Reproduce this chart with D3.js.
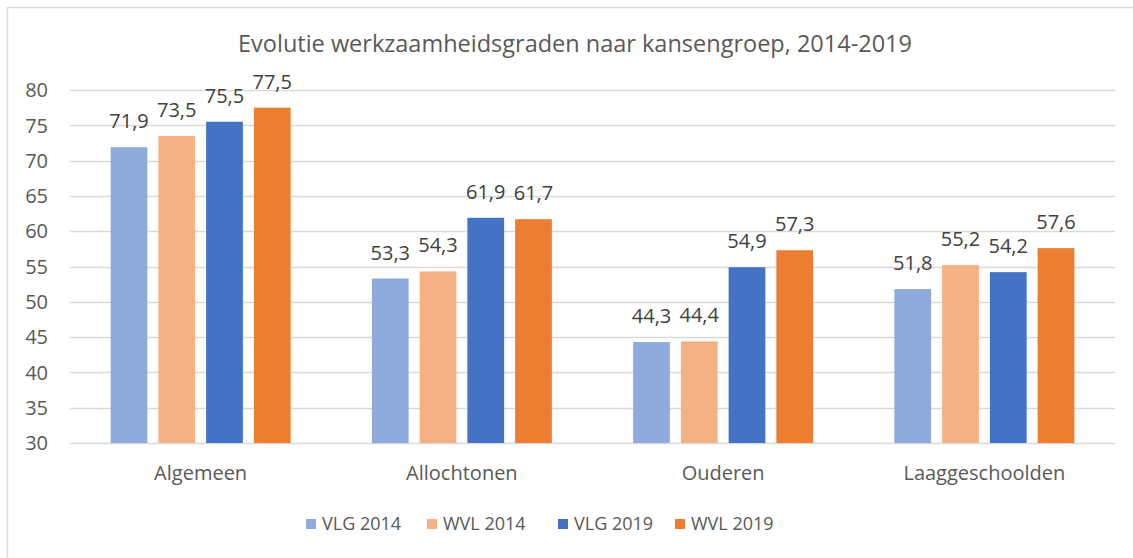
<!DOCTYPE html>
<html>
<head>
<meta charset="utf-8">
<script src="https://cdn.jsdelivr.net/npm/d3@7"></script>
<style>
  body { margin: 0; background: #fff; }
  svg { display: block; font-family: "Open Sans", sans-serif; }
</style>
</head>
<body>
<div id="chart"></div>
<script>
var categories = ["Algemeen", "Allochtonen", "Ouderen", "Laaggeschoolden"];
var seriesNames = ["VLG 2014", "WVL 2014", "VLG 2019", "WVL 2019"];
var vlg2014 = [71.9, 53.3, 44.3, 51.8];
var wvl2014 = [73.5, 54.3, 44.4, 55.2];
var vlg2019 = [75.5, 61.9, 54.9, 54.2];
var wvl2019 = [77.5, 61.7, 57.3, 57.6];
var yTicks = [30, 35, 40, 45, 50, 55, 60, 65, 70, 75, 80];
var colors = ["#8FAADC", "#F4B183", "#4472C4", "#ED7D31"];

var series = [vlg2014, wvl2014, vlg2019, wvl2019];

var width = 1133, height = 558;
var margin = {top: 90, right: 18, bottom: 115, left: 70};

var svg = d3.select("#chart").append("svg")
    .attr("width", width)
    .attr("height", height);

// chart frame (only left/top visible in the crop)
svg.append("path")
    .attr("d", "M7.5," + height + "V7.5H" + width)
    .attr("fill", "none")
    .attr("stroke", "#d9d9d9")
    .attr("stroke-width", 1.5);

var x = d3.scaleBand()
    .domain(categories)
    .range([margin.left, width - margin.right]);

var groupW = 180;
var x1 = d3.scaleBand()
    .domain(seriesNames)
    .range([0, groupW])
    .paddingInner(0.23);

var y = d3.scaleLinear()
    .domain([30, 80])
    .range([height - margin.bottom, margin.top]);

// gridlines
svg.append("g")
    .selectAll("line")
    .data(yTicks)
    .enter()
    .append("line")
    .attr("x1", margin.left)
    .attr("x2", width - margin.right)
    .attr("y1", d => Math.round(y(d)) + 0.5)
    .attr("y2", d => Math.round(y(d)) + 0.5)
    .attr("stroke", "#d9d9d9")
    .attr("stroke-width", 1.5);

// y tick labels
svg.append("g")
    .selectAll("text")
    .data(yTicks)
    .enter()
    .append("text")
    .attr("x", 48)
    .attr("y", d => y(d))
    .attr("dy", "0.36em")
    .attr("text-anchor", "end")
    .attr("fill", "#595959")
    .style("font-size", "20px")
    .text(d => d);

var fmt = d => d3.format(".1f")(d).replace(".", ",");

var groups = svg.append("g")
    .selectAll("g")
    .data(categories)
    .enter()
    .append("g")
    .attr("transform", d => "translate(" + (x(d) + x.bandwidth() / 2 - groupW / 2) + ",0)");

groups.selectAll("rect")
    .data((d, i) => series.map((s, j) => ({name: seriesNames[j], value: s[i], color: colors[j]})))
    .enter()
    .append("rect")
    .attr("x", d => x1(d.name))
    .attr("width", x1.bandwidth())
    .attr("y", d => y(d.value))
    .attr("height", d => y(30) - y(d.value))
    .attr("fill", d => d.color);

groups.selectAll("text")
    .data((d, i) => series.map((s, j) => ({name: seriesNames[j], value: s[i]})))
    .enter()
    .append("text")
    .attr("x", d => x1(d.name) + x1.bandwidth() / 2)
    .attr("y", d => y(d.value) - 19)
    .attr("text-anchor", "middle")
    .attr("fill", "#404040")
    .style("font-size", "20px")
    .text(d => fmt(d.value));

// category labels
svg.append("g")
    .selectAll("text")
    .data(categories)
    .enter()
    .append("text")
    .attr("x", d => x(d) + x.bandwidth() / 2)
    .attr("y", y(30) + 37)
    .attr("text-anchor", "middle")
    .attr("fill", "#595959")
    .style("font-size", "20px")
    .text(d => d);

// title
svg.append("text")
    .attr("x", 575)
    .attr("y", 52)
    .attr("text-anchor", "middle")
    .attr("fill", "#595959")
    .style("font-size", "23.5px")
    .text("Evolutie werkzaamheidsgraden naar kansengroep, 2014-2019");

// legend
var legendX = [306, 427, 558, 675];
var legend = svg.append("g")
    .selectAll("g")
    .data(seriesNames)
    .enter()
    .append("g")
    .attr("transform", (d, i) => "translate(" + legendX[i] + ",524)");

legend.append("rect")
    .attr("x", 0)
    .attr("y", -5)
    .attr("width", 10)
    .attr("height", 10)
    .attr("fill", (d, i) => colors[i]);

legend.append("text")
    .attr("x", 16)
    .attr("y", 0)
    .attr("dy", "0.36em")
    .attr("fill", "#595959")
    .style("font-size", "18px")
    .text(d => d);
</script>
</body>
</html>
